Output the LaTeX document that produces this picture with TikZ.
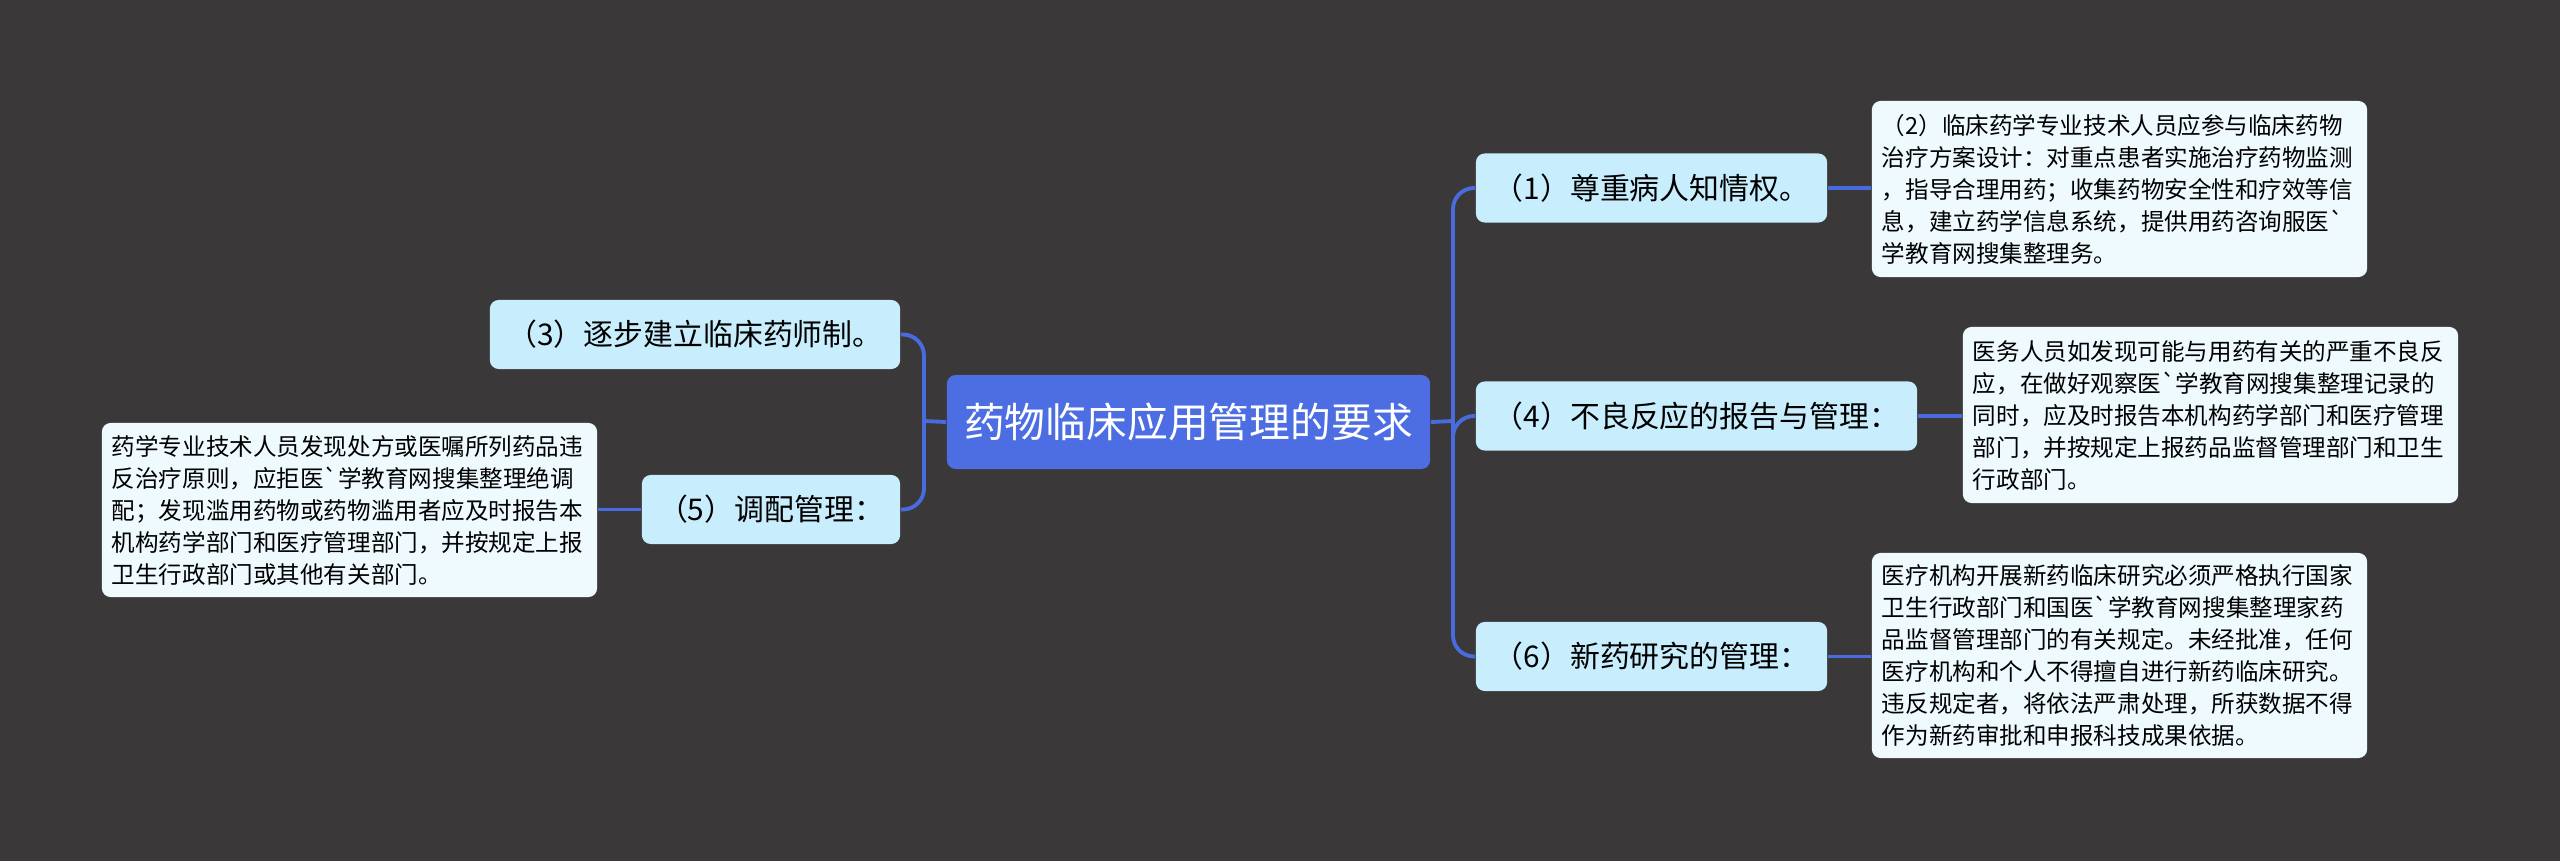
\documentclass[tikz,border=0pt]{standalone}
\usepackage{fontspec}
\setmainfont{Noto Sans CJK SC}
\usetikzlibrary{positioning}

\definecolor{bgdark}{HTML}{3A3839}
\definecolor{rootblue}{HTML}{4D6EE3}
\definecolor{branchfill}{HTML}{C8EDFD}
\definecolor{leaffill}{HTML}{EEFAFE}
\definecolor{linkblue}{HTML}{4A6BE0}
\newcommand{\gv}{\textasciigrave}

\begin{document}
\begin{tikzpicture}[
  x=0.01cm, y=-0.01cm,
  root/.style={fill=rootblue, rounded corners=2.5pt, text=white, align=center,
               font=\fontsize{11.6}{14}\selectfont, inner sep=0pt},
  branch/.style={fill=branchfill, rounded corners=2.5pt, align=center,
                 font=\fontsize{8.5}{10}\selectfont, inner sep=0pt,
                 minimum height=0.69cm},
  leaf/.style={fill=leaffill, rounded corners=2.5pt, align=left,
               font=\fontsize{6.7}{9.1}\selectfont, inner xsep=0.1cm, inner ysep=0pt,
               text width=4.75cm},
  link/.style={draw=linkblue, line width=1.1pt, rounded corners=6pt}
]
\fill[bgdark] (0,0) rectangle (2560,861);
\useasboundingbox (0,0) rectangle (2560,861);

% centre and main branches
\node[root, minimum width=4.83cm, minimum height=0.94cm] (r) at (1188.5,422) {药物临床应用管理的要求};
\node[branch, minimum width=3.51cm] (b1) at (1651.5,188) {（1）尊重病人知情权。};
\node[branch, minimum width=4.41cm] (b4) at (1696.5,416) {（4）不良反应的报告与管理：};
\node[branch, minimum width=3.51cm] (b6) at (1651.5,656.5) {（6）新药研究的管理：};
\node[branch, minimum width=4.10cm] (b3) at (695,334.5) {（3）逐步建立临床药师制。};
\node[branch, minimum width=2.58cm] (b5) at (771,509.5) {（5）调配管理：};

% detail boxes
\node[leaf, minimum height=1.76cm] (l1) at (2119.5,189) {（2）临床药学专业技术人员应参与临床药物\\治疗方案设计：对重点患者实施治疗药物监测\\，指导合理用药；收集药物安全性和疗效等信\\息，建立药学信息系统，提供用药咨询服医\gv\\学教育网搜集整理务。};
\node[leaf, minimum height=1.76cm] (l4) at (2210.5,415) {医务人员如发现可能与用药有关的严重不良反\\应，在做好观察医\gv 学教育网搜集整理记录的\\同时，应及时报告本机构药学部门和医疗管理\\部门，并按规定上报药品监督管理部门和卫生\\行政部门。};
\node[leaf, minimum height=2.05cm] (l6) at (2119.5,655.5) {医疗机构开展新药临床研究必须严格执行国家\\卫生行政部门和国医\gv 学教育网搜集整理家药\\品监督管理部门的有关规定。未经批准，任何\\医疗机构和个人不得擅自进行新药临床研究。\\违反规定者，将依法严肃处理，所获数据不得\\作为新药审批和申报科技成果依据。};
\node[leaf, minimum height=1.74cm] (l5) at (349.5,510) {药学专业技术人员发现处方或医嘱所列药品违\\反治疗原则，应拒医\gv 学教育网搜集整理绝调\\配；发现滥用药物或药物滥用者应及时报告本\\机构药学部门和医疗管理部门，并按规定上报\\卫生行政部门或其他有关部门。};

\coordinate (rj) at (1453,421);
\coordinate (lj) at (924,421);

\draw[link] (r.east) -- (rj);
\draw[link] (rj) |- (b1.west);
\draw[link] (rj) |- (b4.west);
\draw[link] (rj) |- (b6.west);
\draw[link] (r.west) -- (lj);
\draw[link] (lj) |- (b3.east);
\draw[link] (lj) |- (b5.east);

\draw[link] (b1.east) -- (l1.west |- b1.east);
\draw[link] (b4.east) -- (l4.west |- b4.east);
\draw[link] (b6.east) -- (l6.west |- b6.east);
\draw[link] (b5.west) -- (l5.east |- b5.west);
\end{tikzpicture}
\end{document}
